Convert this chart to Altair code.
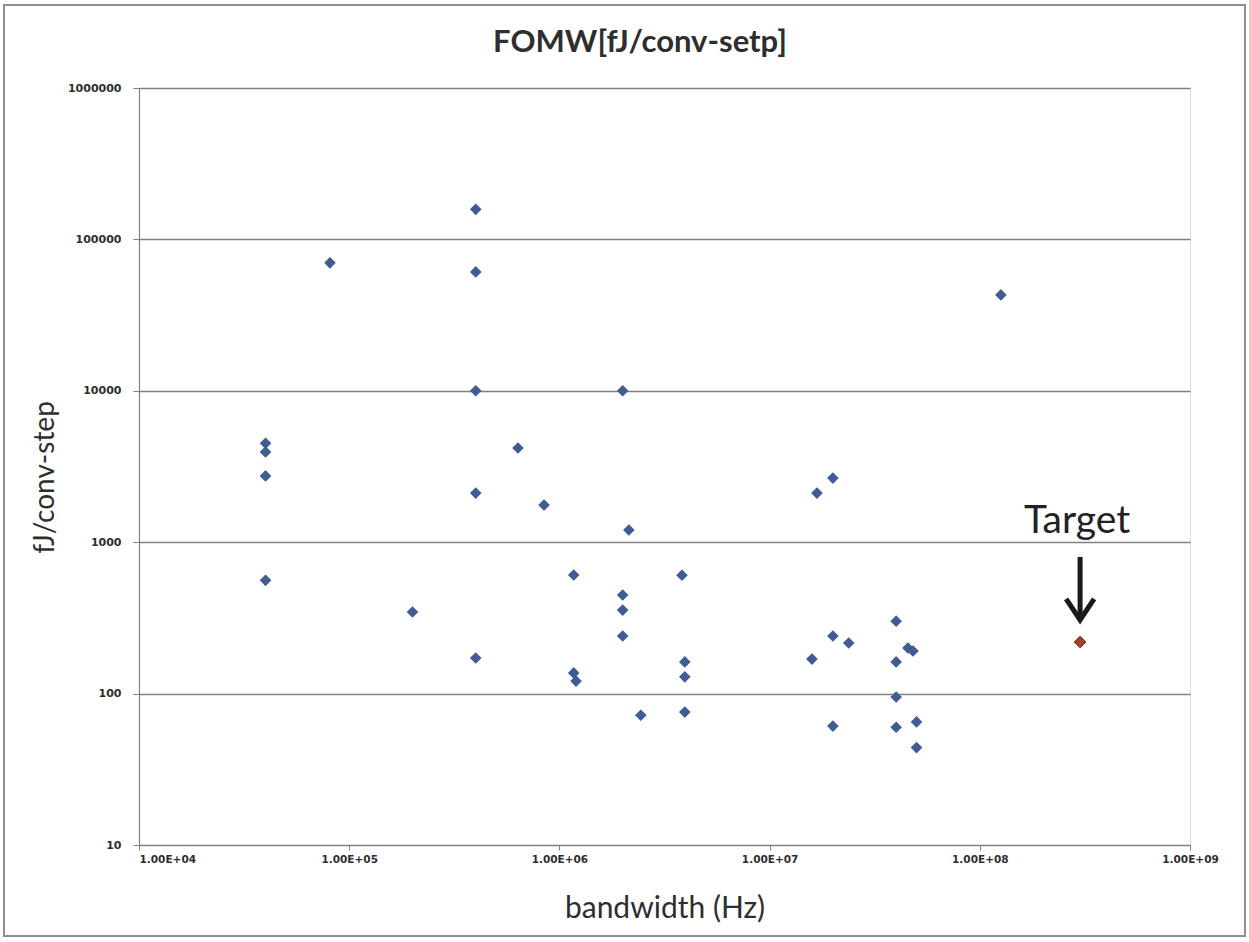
import altair as alt
import pandas as pd

# Published ADC designs: signal bandwidth (Hz) and Walden figure of merit (fJ/conv-step)
bandwidth_hz = [
    4.0e4, 4.0e4, 4.0e4, 4.0e4,
    8.1e4, 2.0e5,
    4.0e5, 4.0e5, 4.0e5, 4.0e5, 4.0e5,
    6.35e5, 8.45e5,
    1.17e6, 1.17e6, 1.2e6,
    2.0e6, 2.0e6, 2.0e6, 2.0e6, 2.14e6, 2.44e6,
    3.83e6, 3.95e6, 3.95e6, 3.95e6,
    1.59e7, 1.68e7,
    2.0e7, 2.0e7, 2.0e7, 2.38e7,
    4.0e7, 4.0e7, 4.0e7, 4.0e7, 4.55e7, 4.81e7, 5.0e7, 5.0e7,
    1.26e8,
]
fom_fj = [
    4500, 3950, 2740, 560,
    70000, 346,
    158000, 61000, 10000, 2110, 172,
    4190, 1760,
    607, 137, 121,
    10000, 448, 356, 240, 1205, 72,
    605, 162, 129, 75.5,
    169, 2110,
    2650, 240, 61, 216,
    301, 162, 95, 60, 200, 191, 65, 44,
    43000,
]

# Design target
target_bw = [3.0e8]
target_fom = [219]
target_label = ["Target"]

chart_title = "FOMW[fJ/conv-setp]"
x_ticks = [1e4, 1e5, 1e6, 1e7, 1e8, 1e9]
y_ticks = [10, 100, 1000, 10000, 100000, 1000000]

W, H = 1051, 757
FONT = "Lato"
GRID = "#808080"
INK = "#2e2e2e"

designs = pd.DataFrame({"bw": bandwidth_hz, "fom": fom_fj})
target = pd.DataFrame({"bw": target_bw, "fom": target_fom, "label": target_label})
arrow = pd.DataFrame({
    "bw": target_bw,
    "top": [v * 3.65 for v in target_fom],
    "bottom": [v * 1.5 for v in target_fom],
    "tip": [v * 1.4 for v in target_fom],
    "text_y": [v * 5.25 for v in target_fom],
    "label": target_label,
})

x_scale = alt.Scale(type="log", domain=[1e4, 1e9], nice=False)
y_scale = alt.Scale(type="log", domain=[10, 1e6], nice=False)

x_axis = alt.Axis(
    values=x_ticks,
    labelExpr="'1.00E+' + (round(log(datum.value) / LN10) < 10 ? '0' : '') + round(log(datum.value) / LN10)",
    labelFlush=False,
    labelAlign=alt.condition("datum.value <= 10000", alt.value("left"), alt.value("center")),
    grid=False,
    domainColor=GRID, domainWidth=1.2, tickColor=GRID, tickSize=5,
    labelFont="DejaVu Sans", labelFontWeight="bold", labelFontSize=10.5,
    labelColor=INK, labelPadding=4,
    title="bandwidth (Hz)", titleFont=FONT, titleFontSize=30,
    titleFontWeight="normal", titleColor=INK,
    titleY=63, titleBaseline="middle",
)
y_axis = alt.Axis(
    values=y_ticks,
    format="d",
    grid=True, gridColor=GRID, gridWidth=1.3,
    domainColor=GRID, domainWidth=1.2, tickColor=GRID, tickSize=6,
    labelFont="DejaVu Sans", labelFontWeight="bold", labelFontSize=11,
    labelColor=INK, labelPadding=12,
    title="fJ/conv-step", titleFont=FONT, titleFontSize=28,
    titleFontWeight="normal", titleColor=INK,
    titleAngle=-90, titleX=-94, titleY=389,
    titleAlign="center", titleBaseline="middle",
)

points = alt.Chart(designs).mark_point(
    shape="diamond", filled=True, size=135, color="#415b95", opacity=1
).encode(
    x=alt.X("bw:Q", scale=x_scale, axis=x_axis),
    y=alt.Y("fom:Q", scale=y_scale, axis=y_axis),
)

target_pt = alt.Chart(target).mark_point(
    shape="diamond", filled=True, size=135, fill="#a3412d",
    stroke="#6e2418", strokeWidth=1, opacity=1
).encode(
    x=alt.X("bw:Q", scale=x_scale),
    y=alt.Y("fom:Q", scale=y_scale),
)

shaft = alt.Chart(arrow).mark_rule(
    color="#1a1a1a", strokeWidth=5, strokeCap="butt"
).encode(
    x=alt.X("bw:Q", scale=x_scale),
    y=alt.Y("top:Q", scale=y_scale),
    y2="bottom:Q",
)

head = alt.Chart(arrow).mark_point(
    shape="M-1,-1.5L0,0L1,-1.5", filled=False, size=784,
    stroke="#1a1a1a", strokeWidth=5, strokeJoin="miter", opacity=1
).encode(
    x=alt.X("bw:Q", scale=x_scale),
    y=alt.Y("tip:Q", scale=y_scale),
)

label = alt.Chart(arrow).mark_text(
    font=FONT, fontSize=39, color="#222222", baseline="alphabetic", align="center", dx=-3
).encode(
    x=alt.X("bw:Q", scale=x_scale),
    y=alt.Y("text_y:Q", scale=y_scale),
    text="label:N",
)

# Chart heading, centred over the chart area
heading = alt.Chart(alt.Data(values=[{"t": chart_title}])).mark_text(
    font=FONT, fontSize=31, fontWeight="bold", color=INK,
    baseline="alphabetic", align="center"
).encode(
    x=alt.value(501), y=alt.value(-36), text="t:N",
)

# Outer chart-area frame
frame = alt.Chart(alt.Data(values=[{}])).mark_rect(
    fill=None, stroke="#8f8f8f", strokeWidth=2
).encode(
    x=alt.value(-135), x2=alt.value(1106),
    y=alt.value(-83), y2=alt.value(848),
)

chart = alt.layer(frame, heading, points, target_pt, shaft, head, label).properties(
    width=W, height=H,
    autosize=alt.AutoSizeParams(type="none"),
    padding={"left": 139, "top": 88, "right": 59, "bottom": 97},
).configure_view(stroke=None).configure(background="white")

chart.save("out.html", embed_options={"renderer": "svg", "actions": False})
